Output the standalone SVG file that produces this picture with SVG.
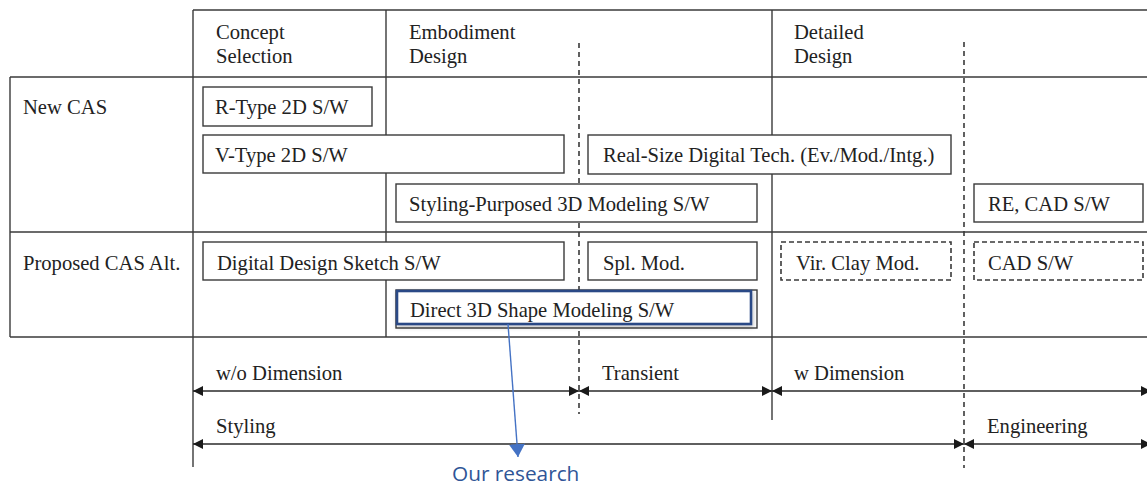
<svg xmlns="http://www.w3.org/2000/svg" width="1147" height="485" viewBox="0 0 1147 485">
  <style>
    .grid { stroke: #3a3a3a; stroke-width: 1.4; fill: none; }
    .dash { stroke: #3a3a3a; stroke-width: 1.6; stroke-dasharray: 5 4; fill: none; }
    .box { fill: #fff; stroke: #3a3a3a; stroke-width: 1.4; }
    .dbox { fill: #fff; stroke: #3a3a3a; stroke-width: 1.6; stroke-dasharray: 5 3; }
    .t { font-family: "Liberation Serif", "Times New Roman", serif; font-size: 20.6px; fill: #222; }
    .span { stroke: #2a2a2a; stroke-width: 1.6; fill: none; marker-start: url(#head); marker-end: url(#head); }
    .note { font-family: "Open Sans", "Noto Sans", sans-serif; font-size: 20.8px; fill: #2f5597; }
  </style>
  <defs>
    <marker id="head" viewBox="0 0 10 10" refX="10" refY="5" markerWidth="10" markerHeight="10" markerUnits="userSpaceOnUse" orient="auto-start-reverse">
      <path d="M0,0 L10,5 L0,10 Z" fill="#1a1a1a"/>
    </marker>
    <marker id="blueHead" viewBox="0 0 14 16" refX="13" refY="8" markerWidth="14" markerHeight="16" markerUnits="userSpaceOnUse" orient="auto">
      <path d="M0,0 L13,8 L0,16 Z" fill="#4472c4"/>
    </marker>
    <filter id="shadow" x="-5%" y="-30%" width="110%" height="160%">
      <feDropShadow dx="1" dy="2" stdDeviation="2" flood-color="#000" flood-opacity="0.25"/>
    </filter>
  </defs>

  <rect width="1147" height="485" fill="#fff"/>

  <!-- table frame -->
  <g id="table">
    <line class="grid" x1="193" y1="10" x2="1147" y2="10"/>
    <line class="grid" x1="10" y1="77" x2="1147" y2="77"/>
    <line class="grid" x1="10" y1="232" x2="1147" y2="232"/>
    <line class="grid" x1="10" y1="337" x2="1147" y2="337"/>
    <line class="grid" x1="10" y1="77" x2="10" y2="337"/>
    <line class="grid" x1="193" y1="10" x2="193" y2="467"/>
    <line class="grid" x1="386" y1="10" x2="386" y2="337"/>
    <line class="grid" x1="772" y1="10" x2="772" y2="420"/>
    <line class="dash" x1="579" y1="43" x2="579" y2="414"/>
    <line class="dash" x1="964" y1="42" x2="964" y2="468"/>
  </g>

  <!-- phase headers -->
  <g id="hdr-concept">
    <text class="t" x="216" y="39">Concept</text>
    <text class="t" x="216" y="63">Selection</text>
  </g>
  <g id="hdr-embodiment">
    <text class="t" x="409" y="39">Embodiment</text>
    <text class="t" x="409" y="63">Design</text>
  </g>
  <g id="hdr-detailed">
    <text class="t" x="794" y="39">Detailed</text>
    <text class="t" x="794" y="63">Design</text>
  </g>

  <!-- row labels -->
  <g id="row-new"><text class="t" x="23" y="114">New CAS</text></g>
  <g id="row-proposed"><text class="t" x="23" y="270">Proposed CAS Alt.</text></g>

  <!-- New CAS tools -->
  <g id="r-type">
    <rect class="box" x="203" y="87" width="169" height="39"/>
    <text class="t" x="215" y="114">R-Type 2D S/W</text>
  </g>
  <g id="v-type">
    <rect class="box" x="203" y="135" width="361" height="38"/>
    <text class="t" x="215" y="162">V-Type 2D S/W</text>
  </g>
  <g id="real-size">
    <rect class="box" x="588" y="135" width="363" height="39"/>
    <text class="t" x="603" y="162">Real-Size Digital Tech. (Ev./Mod./Intg.)</text>
  </g>
  <g id="styling-3d">
    <rect class="box" x="396" y="184" width="361" height="38"/>
    <text class="t" x="409" y="211">Styling-Purposed 3D Modeling S/W</text>
  </g>
  <g id="re-cad">
    <rect class="box" x="974" y="184" width="169" height="38"/>
    <text class="t" x="988" y="211">RE, CAD S/W</text>
  </g>

  <!-- Proposed alternative tools -->
  <g id="sketch">
    <rect class="box" x="203" y="242" width="361" height="38"/>
    <text class="t" x="217" y="270">Digital Design Sketch S/W</text>
  </g>
  <g id="spl-mod">
    <rect class="box" x="588" y="242" width="169" height="38"/>
    <text class="t" x="603" y="270">Spl. Mod.</text>
  </g>
  <g id="clay-mod">
    <rect class="dbox" x="781" y="242" width="170" height="38"/>
    <text class="t" x="796" y="270">Vir. Clay Mod.</text>
  </g>
  <g id="cad">
    <rect class="dbox" x="974" y="242" width="169" height="38"/>
    <text class="t" x="988" y="270">CAD S/W</text>
  </g>
  <g id="direct-3d">
    <rect class="box" x="396" y="290" width="361" height="38"/>
    <rect x="397" y="291" width="354" height="33" fill="#fff" stroke="#2c4a86" stroke-width="2.6" filter="url(#shadow)"/>
    <text class="t" x="410" y="317">Direct 3D Shape Modeling S/W</text>
  </g>

  <!-- span labels -->
  <g id="spans-text">
    <text class="t" x="216" y="380">w/o Dimension</text>
    <text class="t" x="602" y="380">Transient</text>
    <text class="t" x="794" y="380">w Dimension</text>
    <text class="t" x="216" y="433">Styling</text>
    <text class="t" x="987" y="433">Engineering</text>
  </g>

  <g id="note"><text class="note" x="452" y="481">Our research</text></g>

  <!-- connectors -->
  <g id="connectors">
    <line class="span" x1="193" y1="391" x2="579" y2="391"/>
    <line class="span" x1="579" y1="391" x2="772" y2="391"/>
    <line class="span" x1="772" y1="391" x2="1151" y2="391"/>
    <line class="span" x1="193" y1="444" x2="964" y2="444"/>
    <line class="span" x1="964" y1="444" x2="1151" y2="444"/>
    <line x1="508" y1="324" x2="518" y2="457" stroke="#4472c4" stroke-width="1.4" marker-end="url(#blueHead)"/>
  </g>
</svg>
